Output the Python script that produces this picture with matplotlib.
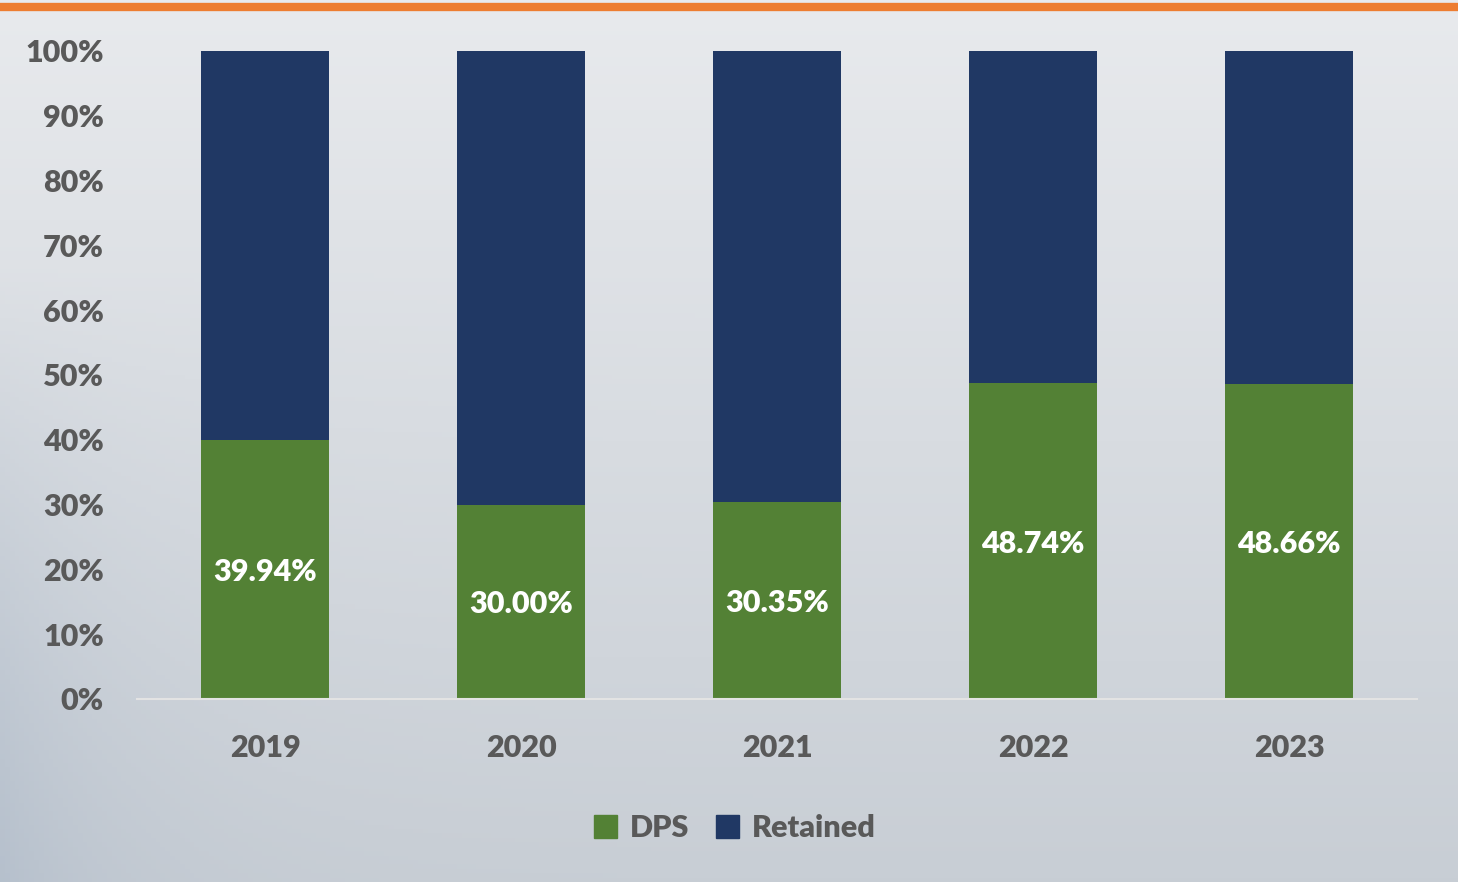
import numpy as np
import matplotlib.pyplot as plt
from matplotlib.patches import Patch

years = ['2019', '2020', '2021', '2022', '2023']
dps = [39.94, 30.00, 30.35, 48.74, 48.66]
retained = [100 - v for v in dps]

verde = '#538135'
blu = '#203864'
grigio = '#595959'
peso = 'heavy'

plt.rcParams['font.family'] = ['Lato', 'DejaVu Sans']

fig = plt.figure(figsize=(14.58, 8.82), dpi=100)

# sfondo sfumato (chiaro in alto, grigio-azzurro in basso, bordo sinistro piu' scuro)
bg = fig.add_axes([0, 0, 1, 1])
yy, xx = np.mgrid[0:1:200j, 0:1:300j]
alto = np.array([232, 234, 237]) / 255
basso = np.array([200, 206, 213]) / 255
scuro = np.array([170, 183, 199]) / 255
img = alto + (basso - alto) * yy[..., None]
bordo = (np.exp(-xx / 0.09) * np.clip((yy - 0.3) / 0.7, 0, 1))[..., None] * 0.6
img = img * (1 - bordo) + scuro * bordo
bg.imshow(img, aspect='auto', extent=[0, 1, 0, 1], origin='upper')
bg.axis('off')
bg.axhline(0.9925, color='#ed7d31', lw=6)
bg.set_xlim(0, 1)
bg.set_ylim(0, 1)

ax = fig.add_axes([0.094, 0.2075, 0.878, 0.7347])
ax.patch.set_alpha(0)
x = np.arange(len(years))
ax.bar(x, dps, width=0.5, color=verde, label='DPS')
ax.bar(x, retained, width=0.5, bottom=dps, color=blu, label='Retained')

for i, v in enumerate(dps):
    ax.text(i, v / 2 - 0.4, f'{v:.2f}%', ha='center', va='center', color='white',
            fontsize=22, fontweight=peso)

ax.set_xlim(-0.5, 4.5)
ax.set_ylim(0, 100)
ax.set_yticks(range(0, 101, 10))
ax.set_yticklabels([f'{v}%' for v in range(0, 101, 10)], fontweight=peso)
ax.set_xticks(x)
ax.set_xticklabels(years, fontweight=peso)
ax.tick_params(axis='y', length=0, pad=24, labelsize=22, labelcolor=grigio)
ax.tick_params(axis='x', length=0, pad=25, labelsize=22, labelcolor=grigio)
for s in ['top', 'right', 'left']:
    ax.spines[s].set_visible(False)
ax.spines['bottom'].set_color('#e3e3e3')
ax.spines['bottom'].set_linewidth(1.5)

handles = [Patch(color=verde, label='DPS'), Patch(color=blu, label='Retained')]
fig.legend(handles=handles, loc='center', bbox_to_anchor=(0.504, 0.061), ncol=2,
           frameon=False, prop={'size': 22, 'weight': peso}, labelcolor=grigio,
           handlelength=0.75, handleheight=0.75, handletextpad=0.4, columnspacing=0.9)

plt.savefig('out.png', dpi=100)
